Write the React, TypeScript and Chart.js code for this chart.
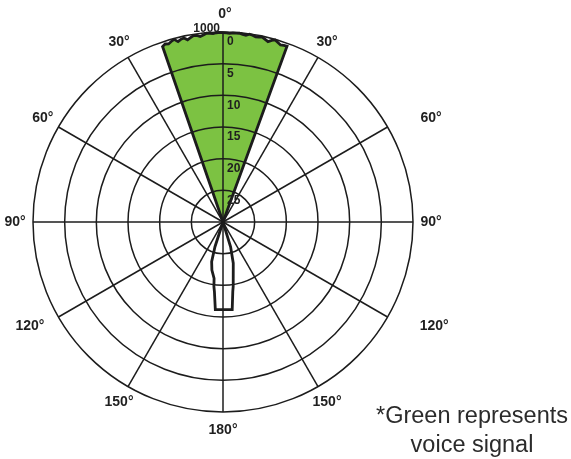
import React, { useEffect, useRef } from 'react';
import { Chart, registerables } from 'chart.js';

Chart.register(...registerables);

// ---- data ----
const FULL_SCALE = 30; // dB range shown (0 at outer ring, 30 at centre)
const angleSteps = Array.from({ length: 360 }, (_, i) => String(i)); // 1° categories
const degreeMarks = [0, 30, 60, 90, 120, 150, 180, 210, 240, 270, 300, 330];
const degreeLabels = ['0°', '30°', '60°', '90°', '120°', '150°', '180°', '150°', '120°', '90°', '60°', '30°'];
const levelTicks = [0, 5, 10, 15, 20, 25];
const frequencyLabel = '1000';
const noteLines = ['*Green represents', 'voice signal'];

// front (voice) lobe: angle in degrees, attenuation in dB
const greenAngles = [-20, -19, -18, -17, -16, -15, -14, -13, -12, -11, -10, -9, -8, -7, -6, -5, -4, -3, -2, -1, 0,
  1, 2, 3, 4, 5, 6, 7, 8, 9, 10, 11, 12, 13, 14, 15, 16, 17, 18, 19, 20, 21];
const greenAtten = [30, 0.7, 0.45, 0.6, 0.35, 0.15, 0.65, 0.4, 0.3, 0.7, 0.45, 0.2, 0.25, 0.5, 0.3, 0.08, 0.15, 0.2, 0.1, 0.05, 0.1,
  0.15, 0.2, 0.1, 0.12, 0.08, 0.2, 0.3, 0.05, 0.15, 0.3, 0.25, 0.15, 0.4, 0.65, 0.3, 0.1, 0.35, 0.6, 0.5, 0.45, 30];

// rear lobe outline
const backAngles = [162, 163, 166, 171, 172, 174, 185, 187, 188, 189, 193, 196, 198, 199];
const backAtten = [30, 25.9, 23.3, 19.7, 18.9, 16.1, 16.1, 18.9, 19.7, 21.0, 22.2, 23.5, 25.9, 30];

// ---- styles ----
const lineColor = '#1c1c1c';
const textColor = '#1f1f1f';
const greenFill = '#7cc242';
const fontFamily = '"Liberation Sans", Arial, Helvetica, sans-serif';
const labelNudge = [2, 0, 28, 0, 31, 0, 0, 0, -13, 0, 0, 0];

function toSeries(angles: number[], atten: number[]) {
  const arr: (number | null)[] = angleSteps.map(() => null);
  angles.forEach((a, i) => {
    arr[((a % 360) + 360) % 360] = FULL_SCALE - atten[i];
  });
  return arr;
}

const overlayPlugin = {
  id: 'overlayText',
  afterDraw(chart: any) {
    const s = chart.scales.r;
    const ctx = chart.ctx;
    const cx = s.xCenter;
    const cy = s.yCenter;
    const R = s.drawingArea;
    ctx.save();
    ctx.fillStyle = textColor;
    ctx.font = `bold 12px ${fontFamily}`;
    ctx.textAlign = 'left';
    ctx.textBaseline = 'middle';
    levelTicks.forEach((l) => {
      const d = s.getDistanceFromCenterForValue(FULL_SCALE - l);
      ctx.fillText(String(l), cx + 4, cy - d + 10);
    });
    ctx.textAlign = 'right';
    ctx.textBaseline = 'alphabetic';
    ctx.fillText(frequencyLabel, cx - 3, cy - R);

    ctx.font = `bold 14px ${fontFamily}`;
    ctx.textAlign = 'center';
    ctx.textBaseline = 'middle';
    degreeMarks.forEach((deg, k) => {
      const p = s.getPointPosition(deg, R + 18);
      ctx.fillText(degreeLabels[k], p.x + labelNudge[k], p.y);
    });

    ctx.font = `23.5px ${fontFamily}`;
    ctx.fillStyle = '#2b2b2b';
    ctx.textAlign = 'center';
    ctx.textBaseline = 'alphabetic';
    const nx = chart.width - 99;
    ctx.fillText(noteLines[0], nx, chart.height - 36);
    ctx.fillText(noteLines[1], nx, chart.height - 7.5);
    ctx.restore();
  },
};

export default function App() {
  const ref = useRef<HTMLCanvasElement | null>(null);
  useEffect(() => {
    if (!ref.current) return;
    const chart = new Chart(ref.current, {
      type: 'radar',
      data: {
        labels: angleSteps,
        datasets: [
          {
            label: 'voice',
            data: toSeries(greenAngles, greenAtten),
            backgroundColor: greenFill,
            borderColor: lineColor,
            borderWidth: 2.8,
            borderJoinStyle: 'miter',
            fill: 'start',
            spanGaps: true,
            pointRadius: 0,
            pointHitRadius: 0,
            tension: 0,
          },
          {
            label: 'rear',
            data: toSeries(backAngles, backAtten),
            backgroundColor: 'rgba(0,0,0,0)',
            borderColor: lineColor,
            borderWidth: 2.8,
            borderJoinStyle: 'miter',
            fill: false,
            spanGaps: true,
            pointRadius: 0,
            pointHitRadius: 0,
            tension: 0,
          },
        ],
      },
      options: {
        animation: false,
        responsive: false,
        layout: { padding: { left: 33, top: 32, right: 158, bottom: 47 } },
        plugins: { legend: { display: false }, tooltip: { enabled: false } },
        scales: {
          r: {
            min: 0,
            max: FULL_SCALE,
            ticks: { display: false, stepSize: 5 },
            grid: { circular: true, color: lineColor, lineWidth: 1.5, z: 1 },
            angleLines: {
              display: true,
              color: lineColor,
              lineWidth: (c: any) => (c.index % 30 === 0 ? 1.5 : 0),
            },
            pointLabels: { display: false },
          },
        },
      },
      plugins: [overlayPlugin],
    } as any);
    return () => chart.destroy();
  }, []);
  return (
    <div style={{ position: 'absolute', left: 0, top: 0, width: 571, height: 459, background: '#fff' }}>
      <canvas ref={ref} width={571} height={459} style={{ display: 'block' }} />
    </div>
  );
}
